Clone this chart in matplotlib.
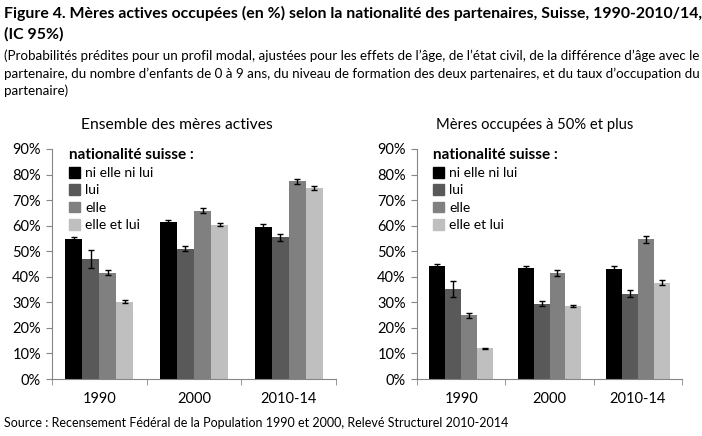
import matplotlib
matplotlib.use("Agg")
import matplotlib.pyplot as plt
import numpy as np
from matplotlib.patches import Patch

plt.rcParams['font.family'] = ['Lato', 'DejaVu Sans']

years = ["1990", "2000", "2010-14"]
series = ["ni elle ni lui", "lui", "elle", "elle et lui"]
colors = ["#000000", "#595959", "#808080", "#bfbfbf"]

# Ensemble des mères actives
all_vals = [
    [54.6, 61.5, 59.5],
    [47.1, 51.0, 55.4],
    [41.6, 65.9, 77.4],
    [30.3, 60.4, 74.8],
]
all_err = [
    [0.9, 0.6, 1.2],
    [3.5, 1.0, 1.5],
    [1.0, 1.0, 1.0],
    [0.5, 0.5, 0.7],
]
# Mères occupées à 50% et plus
half_vals = [
    [44.3, 43.6, 43.0],
    [35.2, 29.5, 33.4],
    [24.9, 41.5, 54.6],
    [12.0, 28.6, 37.6],
]
half_err = [
    [0.8, 0.7, 1.2],
    [3.0, 1.0, 1.4],
    [1.0, 1.0, 1.5],
    [0.3, 0.5, 1.0],
]

W, H = 702, 436
fig = plt.figure(figsize=(W / 100, H / 100), dpi=100)
renderer = fig.canvas.get_renderer()


def px(x, y):
    return x / W, 1 - y / H


def fit_text(x, y, s, width, size, **kw):
    # resize the font so the line spans the same width as in the reference
    t = fig.text(*px(x, y), s, fontsize=size, va="center", **kw)
    w = t.get_window_extent(renderer).width
    t.set_fontsize(size * width / w)
    return t


def panel(left, right, vals, errs, subtitle, sub_x, sub_width):
    ax = fig.add_axes([left / W, (H - 379) / H, (right - left) / W, 230 / H])
    x = np.arange(len(years))
    bw = 0.18
    for i, (v, e) in enumerate(zip(vals, errs)):
        ax.bar(x + (i - 1.5) * bw, v, bw, color=colors[i], label=series[i],
               yerr=e, capsize=2.5, error_kw=dict(ecolor="black", elinewidth=1, capthick=1))
    ax.set_xlim(-0.5, len(years) - 0.5)
    ax.set_ylim(0, 90)
    ax.set_yticks(np.arange(0, 91, 10))
    ax.set_yticklabels([f"{t}%" for t in range(0, 91, 10)], fontsize=10.5)
    ax.set_xticks(x)
    ax.set_xticklabels(years, fontsize=10.5)
    ax.tick_params(axis="x", length=0, pad=9)
    ax.set_xticks(np.arange(-0.5, len(years), 1), minor=True)
    ax.tick_params(axis="x", which="minor", length=4, color="#868686")
    ax.tick_params(axis="y", length=4, color="#868686", pad=4)
    for s in ("top", "right"):
        ax.spines[s].set_visible(False)
    for s in ("left", "bottom"):
        ax.spines[s].set_color("#868686")
    leg = ax.legend(handles=[Patch(color=c, label=s) for c, s in zip(colors, series)],
                    title="nationalité suisse :", loc="upper left", bbox_to_anchor=(0.04, 1.03),
                    frameon=False, fontsize=10, handlelength=0.8, handleheight=0.8,
                    handletextpad=0.35, labelspacing=0.38, borderaxespad=0)
    leg.get_title().set_fontweight("bold")
    leg.get_title().set_fontsize(11)
    leg._legend_box.align = "left"
    fit_text(sub_x, 125, subtitle, sub_width, 11, ha="center")
    return ax


panel(52, 336, all_vals, all_err, "Ensemble des mères actives", 177, 191)
panel(417, 682, half_vals, half_err, "Mères occupées à 50% et plus", 535, 196)

title = fit_text(4, 13, "Figure 4. Mères actives occupées (en %) selon la nationalité des partenaires, Suisse, 1990-2010/14,",
                 694, 12, fontweight="bold")
fig.text(*px(4, 34), "(IC 95%)", va="center", fontweight="bold", fontsize=title.get_fontsize())
notes = [
    "(Probabilités prédites pour un profil modal, ajustées pour les effets de l’âge, de l’état civil, de la différence d’âge avec le",
    "partenaire, du nombre d’enfants de 0 à 9 ans, du niveau de formation des deux partenaires, et du taux d’occupation du",
    "partenaire)",
]
first = fit_text(4, 56, notes[0], 694, 10)
for i, line in enumerate(notes[1:], start=1):
    fig.text(*px(4, 56 + i * 17.5), line, fontsize=first.get_fontsize(), va="center")
fit_text(4, 423, "Source : Recensement Fédéral de la Population 1990 et 2000, Relevé Structurel 2010-2014",
         505, 10)

fig.savefig("out.png", dpi=100)
